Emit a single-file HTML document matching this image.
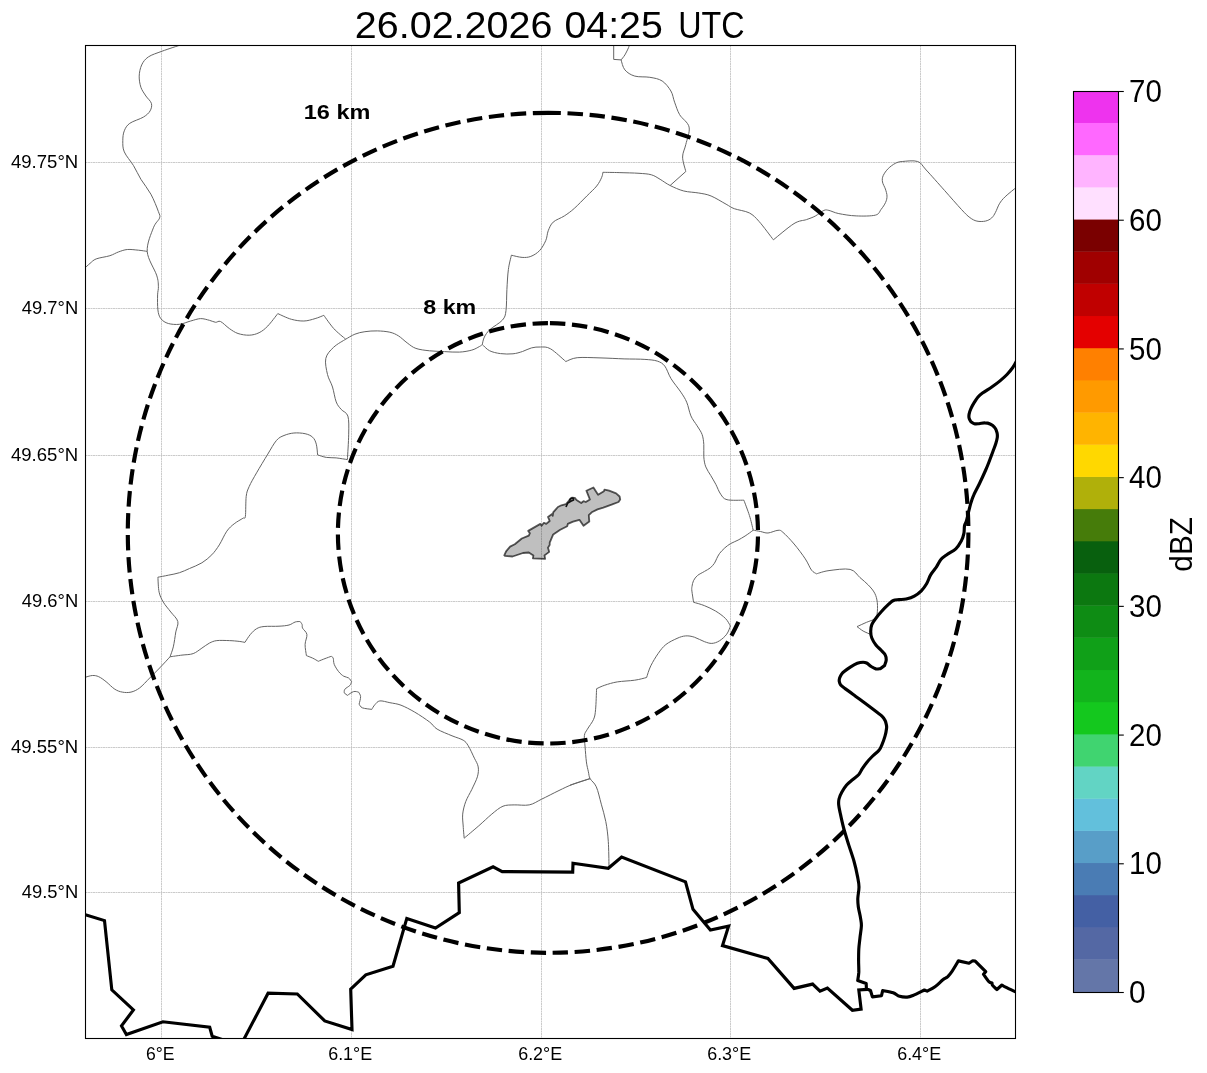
<!DOCTYPE html>
<html><head><meta charset="utf-8"><title>Radar map</title>
<style>html,body{margin:0;padding:0;background:#fff;}body{width:1207px;height:1073px;overflow:hidden;font-family:"Liberation Sans",sans-serif;}body{position:relative;}svg{display:block;position:absolute;left:0;top:0;will-change:transform;}text{font-family:"Liberation Sans",sans-serif;fill:#000;}</style></head><body>
<svg width="1207" height="1073" viewBox="0 0 1207 1073" role="img" aria-label="Radar reflectivity map 26.02.2026 04:25 UTC">
<rect width="1207" height="1073" fill="#fff"/>
<defs><clipPath id="ax"><rect x="85.5" y="45.5" width="930.0" height="993.0"/></clipPath></defs>
<g clip-path="url(#ax)">
<g stroke="#bababa" stroke-width="0.75" stroke-dasharray="2 0.5" fill="none">
<line x1="161.5" y1="45.5" x2="161.5" y2="1038.5"/>
<line x1="351.5" y1="45.5" x2="351.5" y2="1038.5"/>
<line x1="541.5" y1="45.5" x2="541.5" y2="1038.5"/>
<line x1="730.5" y1="45.5" x2="730.5" y2="1038.5"/>
<line x1="920.5" y1="45.5" x2="920.5" y2="1038.5"/>
<line x1="85.5" y1="162.5" x2="1015.5" y2="162.5"/>
<line x1="85.5" y1="308.5" x2="1015.5" y2="308.5"/>
<line x1="85.5" y1="455.5" x2="1015.5" y2="455.5"/>
<line x1="85.5" y1="601.5" x2="1015.5" y2="601.5"/>
<line x1="85.5" y1="747.5" x2="1015.5" y2="747.5"/>
<line x1="85.5" y1="892.5" x2="1015.5" y2="892.5"/>
</g>
<g fill="none" stroke="#646464" stroke-width="1" stroke-linejoin="round">
<path d="M182.0,44.5C178.7,45.6 167.7,49.1 162.1,51.2C156.5,53.3 151.8,54.6 148.4,56.9C145.0,59.2 143.2,61.7 141.7,64.9C140.2,68.1 139.3,72.4 139.2,76.1C139.1,79.8 139.8,84.0 140.9,87.3C142.0,90.6 144.2,93.3 145.9,96.0C147.7,98.7 150.7,100.9 151.4,103.4C152.1,105.9 151.4,108.6 150.1,110.9C148.8,113.2 146.8,115.0 143.4,117.1C140.0,119.2 133.0,121.0 129.8,123.3C126.6,125.6 125.5,127.9 124.3,130.8C123.1,133.7 122.8,137.2 122.8,140.7C122.8,144.2 122.5,147.8 124.3,151.9C126.1,156.1 130.7,161.0 133.5,165.6C136.3,170.2 138.0,174.5 140.9,179.3C143.8,184.1 148.0,188.8 150.9,194.2C153.8,199.6 157.0,207.6 158.4,211.6C159.8,215.6 160.4,215.2 159.6,217.9C158.8,220.6 155.5,222.2 153.4,227.8C151.3,233.4 146.7,243.5 147.2,251.4C147.7,259.3 154.7,269.3 156.6,275.1C158.5,280.9 158.2,283.0 158.4,286.3C158.6,289.6 157.7,291.0 157.6,294.9C157.5,298.8 157.4,305.9 157.9,309.9C158.4,313.8 159.1,316.3 160.8,318.6C162.5,320.9 165.2,322.6 168.3,323.5C171.4,324.4 175.8,324.7 179.5,324.3C183.2,323.9 187.2,321.9 190.7,321.0C194.2,320.1 197.5,318.7 200.6,318.6C203.7,318.5 206.9,319.7 209.4,320.3C211.9,320.9 213.8,322.1 215.6,322.3C217.4,322.5 218.2,320.5 220.5,321.5C222.8,322.5 226.4,326.5 229.3,328.5C232.2,330.5 234.7,332.4 238.0,333.5C241.3,334.6 245.7,335.3 249.2,335.2C252.7,335.1 256.0,334.2 259.1,332.7C262.2,331.2 264.7,329.2 267.8,326.0C270.9,322.8 276.1,315.7 277.8,313.6C280.1,314.6 287.0,318.1 291.4,319.3C295.8,320.5 299.9,321.1 303.9,321.0C307.8,320.9 311.8,319.6 315.1,318.6C318.4,317.7 322.4,315.9 323.8,315.3C325.4,317.5 330.1,324.5 333.7,328.5C337.3,332.5 343.7,337.4 345.7,339.2"/>
<path d="M147.2,251.4C145.8,251.2 141.8,250.5 138.5,250.2C135.2,249.9 130.6,249.2 127.3,249.5C124.0,249.8 121.5,250.9 118.6,251.9C115.7,252.9 113.6,254.5 109.9,255.7C106.2,256.9 99.5,257.6 96.2,258.9C92.9,260.2 92.0,261.8 90.0,263.4C88.0,265.0 85.4,267.6 84.5,268.4"/>
<path d="M345.7,339.2C343.7,340.5 337.0,344.0 333.7,347.2C330.4,350.4 326.8,353.8 325.8,358.4C324.8,362.9 326.4,369.7 327.5,374.5C328.6,379.3 331.1,382.4 332.5,387.0C333.9,391.6 334.8,398.2 336.2,401.9C337.6,405.6 339.2,407.0 341.2,409.4C343.1,411.8 346.6,412.0 347.9,416.1C349.1,420.2 348.8,426.9 348.7,434.2C348.6,441.4 347.6,455.4 347.4,459.6C345.5,459.3 339.7,458.3 336.2,457.9C332.7,457.5 329.4,457.9 326.3,457.4C323.2,456.9 319.1,455.3 317.6,454.9C317.4,453.1 317.1,447.1 316.3,444.2C315.5,441.2 314.5,438.9 312.6,437.2C310.7,435.4 308.2,434.4 305.1,433.7C302.0,433.0 297.4,432.7 293.9,433.0C290.4,433.3 286.9,434.3 284.0,435.5C281.1,436.7 279.2,437.3 276.5,440.4C273.8,443.5 271.1,448.7 267.8,454.1C264.5,459.5 259.7,467.4 256.6,472.8C253.5,478.2 250.9,482.6 249.2,486.5C247.5,490.4 246.8,491.4 246.2,496.4C245.6,501.4 245.9,512.6 245.4,516.3C244.9,519.9 244.8,517.0 242.9,518.3C241.0,519.5 236.9,521.6 234.2,523.8C231.5,525.9 229.3,527.7 226.8,531.2C224.3,534.7 221.8,541.0 219.3,544.9C216.8,548.8 214.7,551.8 211.8,554.8C208.9,557.8 205.6,560.5 201.9,562.8C198.2,565.1 193.2,566.9 189.5,568.5C185.8,570.1 183.0,571.6 179.5,572.7C176.0,573.8 171.9,574.5 168.3,575.2C164.7,576.0 159.6,576.9 157.9,577.2C158.1,579.7 158.2,588.0 159.1,592.1C160.0,596.2 161.4,598.8 163.3,602.1C165.2,605.4 168.4,608.8 170.8,612.0C173.2,615.2 177.0,618.2 177.8,621.5C178.6,624.8 176.6,627.7 175.8,631.9C175.1,636.1 174.3,642.8 173.3,646.9C172.3,651.0 170.6,655.1 170.0,656.8"/>
<path d="M170.0,656.8C168.3,658.7 163.0,664.5 159.6,668.0C156.2,671.5 153.0,674.7 149.7,678.0C146.4,681.3 142.8,685.5 139.7,687.9C136.6,690.2 133.9,691.4 131.0,692.1C128.1,692.8 125.0,692.6 122.3,692.1C119.6,691.6 117.5,690.9 114.8,689.2C112.1,687.5 108.8,683.8 106.1,681.7C103.4,679.6 101.0,677.7 98.7,676.7C96.4,675.7 94.8,675.4 92.4,675.5C90.0,675.6 85.8,677.2 84.5,677.5"/>
<path d="M170.0,656.8C172.0,656.5 178.1,655.6 182.0,655.1C185.9,654.6 189.9,654.8 193.2,653.6C196.5,652.4 199.2,649.9 201.9,648.1C204.6,646.4 206.9,644.4 209.4,643.1C211.9,641.9 213.5,641.0 216.8,640.6C220.1,640.2 225.6,640.5 229.3,640.6C233.0,640.7 236.6,641.1 239.2,641.4C241.8,641.7 243.9,642.2 244.9,642.4C245.8,641.1 248.4,636.7 250.4,634.4C252.4,632.1 254.3,630.0 256.6,628.7C258.9,627.4 260.4,626.9 264.1,626.5C267.8,626.1 274.9,626.5 279.0,626.2C283.1,626.0 286.3,625.7 289.0,625.0C291.7,624.3 293.3,622.6 295.2,622.0C297.1,621.4 299.3,621.6 300.1,621.5C300.4,622.0 301.7,623.4 302.1,624.5C302.5,625.6 301.8,626.6 302.6,628.2C303.4,629.9 306.5,631.7 306.9,634.4C307.3,637.1 305.2,640.9 305.1,644.4C305.0,647.9 306.2,653.7 306.4,655.6C307.4,656.0 310.6,657.2 312.6,658.1C314.6,659.0 317.4,660.8 318.3,661.3C319.4,660.8 322.9,659.4 325.0,658.6C327.1,657.8 330.2,656.7 331.2,656.3C331.5,656.6 332.7,656.8 333.2,658.1C333.7,659.4 333.3,662.0 334.2,664.3C335.1,666.6 337.1,669.7 338.7,671.7C340.3,673.7 342.0,675.2 343.7,676.2C345.4,677.2 347.4,677.1 348.7,678.0C350.0,678.9 351.1,681.1 351.6,681.7C351.3,682.3 351.0,684.1 349.9,685.4C348.8,686.6 345.8,688.0 344.9,689.2C343.9,690.5 344.3,692.3 344.2,692.9L347.4,695.4C348.4,694.8 351.7,692.1 353.6,691.6C355.5,691.1 357.8,692.0 358.6,692.1C358.9,692.9 360.5,694.6 360.6,696.6C360.7,698.6 359.4,702.9 359.1,704.1C359.6,704.7 360.2,706.9 362.3,707.8C364.4,708.7 370.2,709.1 371.8,709.4C372.3,708.6 373.5,706.1 374.9,704.7C376.2,703.3 377.4,701.2 379.9,700.9C382.4,700.6 386.4,702.0 389.9,702.7C393.4,703.4 396.9,703.6 401.0,705.2C405.1,706.8 409.9,709.3 414.7,712.1C419.5,714.9 426.0,719.3 429.7,722.1C433.4,724.9 433.4,726.8 437.1,729.1C440.8,731.4 447.6,733.9 452.0,735.8C456.4,737.6 460.5,738.6 463.2,740.2C465.9,741.9 466.3,742.7 468.2,745.7C470.1,748.7 472.7,754.7 474.4,758.2C476.1,761.7 477.7,763.8 478.2,766.9C478.7,770.0 478.4,773.1 477.4,776.8C476.3,780.5 473.8,785.1 471.9,789.3C469.9,793.4 467.2,797.6 465.7,801.7C464.2,805.8 463.1,810.1 462.7,814.1C462.3,818.1 462.9,822.0 463.2,826.0C463.4,830.0 464.0,836.2 464.2,838.2C466.6,836.1 474.2,829.8 478.8,825.8C483.4,821.8 487.8,817.4 491.8,814.1C495.8,810.8 499.3,807.7 503.0,806.2C506.7,804.7 509.8,805.1 514.2,804.9C518.6,804.7 524.6,805.8 529.2,804.9C533.8,804.0 536.6,801.6 541.6,799.2C546.6,796.8 553.8,793.0 559.0,790.5C564.2,788.0 567.5,786.3 572.7,784.3C577.9,782.3 587.2,779.5 590.1,778.6"/>
<path d="M753.2,530.2C751.9,531.2 747.6,534.4 745.1,536.0C742.6,537.6 740.5,538.8 738.1,540.1C735.7,541.4 732.8,542.3 730.6,543.6C728.4,544.9 726.6,546.3 724.8,547.9C723.0,549.5 721.0,551.6 719.6,553.4C718.2,555.2 717.6,557.0 716.7,558.6C715.8,560.2 715.5,561.8 714.4,563.3C713.3,564.8 711.9,566.5 710.3,567.9C708.6,569.2 706.6,570.1 704.5,571.4C702.4,572.7 699.3,574.0 697.5,575.5C695.7,577.0 694.4,578.9 693.5,580.7C692.6,582.5 692.3,584.8 692.0,586.5C691.7,588.2 691.6,588.5 691.9,591.1C692.2,593.7 693.3,600.4 693.6,602.3C695.4,602.8 700.6,604.1 704.3,605.6C707.9,607.1 712.0,608.9 715.5,611.0C719.0,613.1 723.0,616.0 725.5,618.5C728.0,621.0 729.6,624.8 730.4,626.0C729.8,627.4 728.6,631.7 726.7,634.2C724.9,636.7 721.8,639.4 719.3,640.9C716.8,642.4 714.3,643.3 711.8,643.4C709.3,643.5 707.2,642.6 704.3,641.6C701.4,640.6 697.5,638.2 694.4,637.2C691.3,636.2 688.6,635.7 685.7,635.9C682.8,636.1 680.3,636.9 677.0,638.4C673.7,639.9 668.9,642.1 665.8,644.6C662.7,647.1 660.8,649.8 658.3,653.3C655.8,656.8 652.8,661.8 650.8,665.8C648.8,669.8 647.3,675.5 646.6,677.5C644.6,678.0 639.6,679.5 634.7,680.2C629.8,680.9 622.3,681.1 617.3,681.9C612.3,682.7 608.2,684.1 604.8,685.2C601.3,686.3 598.0,688.1 596.6,688.7C596.4,692.1 596.1,704.2 595.6,709.3C595.1,714.4 595.0,716.0 593.6,719.3C592.2,722.6 588.9,726.5 587.4,729.2C585.9,731.9 584.8,732.4 584.4,735.4C584.0,738.4 584.8,742.6 585.1,747.0C585.4,751.4 585.9,757.8 586.4,761.9C586.9,766.0 587.8,769.0 588.4,771.8C589.0,774.6 588.8,776.1 590.1,778.6C591.4,781.1 594.4,782.5 596.3,786.8C598.2,791.1 599.7,798.4 601.3,804.2C602.9,810.0 604.6,815.4 605.8,821.6C607.0,827.8 607.8,834.1 608.3,841.5C608.8,848.9 608.9,861.9 609.0,866.0"/>
<path d="M345.7,339.2C347.2,338.4 351.7,335.4 354.9,334.2C358.1,332.9 361.2,332.2 364.9,331.7C368.6,331.1 373.1,330.8 377.3,330.9C381.5,331.0 386.3,331.4 389.8,332.2C393.3,333.0 395.6,334.1 398.5,335.9C401.4,337.7 404.3,340.8 407.2,342.9C410.1,345.0 412.2,347.1 415.9,348.4C419.6,349.7 424.8,350.3 429.6,350.8C434.4,351.3 439.5,351.4 444.5,351.6C449.5,351.8 454.8,352.4 459.4,352.1C463.9,351.9 468.5,351.0 471.8,350.1C475.1,349.2 477.6,347.5 479.3,346.6C481.1,345.7 481.8,344.9 482.3,344.5"/>
<path d="M482.3,344.5C482.6,343.2 483.1,339.5 484.4,337.0C485.7,334.5 487.0,332.3 490.0,329.5C493.0,326.7 499.8,323.2 502.5,320.0C505.2,316.8 505.3,315.6 506.0,310.5C506.7,305.4 506.5,296.4 506.9,289.5C507.3,282.6 507.6,275.1 508.4,269.4C509.1,263.7 510.9,257.6 511.4,255.2C513.2,255.6 518.9,257.2 522.1,257.4C525.3,257.6 527.9,257.5 530.8,256.4C533.7,255.3 537.0,253.3 539.5,250.7C542.0,248.1 544.2,244.0 545.7,240.7C547.2,237.4 547.0,233.9 548.2,230.8C549.5,227.7 550.5,224.6 553.2,222.1C555.9,219.6 560.9,218.2 564.4,215.9C567.9,213.6 570.6,211.7 574.3,208.4C578.0,205.1 583.1,199.7 586.8,196.0C590.5,192.3 594.2,189.1 596.7,186.0C599.2,182.9 600.7,179.6 601.7,177.3C602.7,175.0 602.7,173.1 602.9,172.3C605.6,172.4 613.1,172.4 619.1,172.6C625.1,172.8 633.6,172.9 639.0,173.3C644.4,173.7 647.9,173.8 651.4,174.8C654.9,175.8 657.0,177.5 660.1,179.3C663.2,181.1 666.2,183.6 670.1,185.5C674.0,187.4 679.0,189.8 683.8,191.0C688.6,192.2 694.2,192.2 698.7,193.0C703.2,193.8 706.5,194.1 711.1,196.0C715.7,197.9 722.2,202.1 726.1,204.2C730.0,206.3 730.4,207.2 734.3,208.7C738.2,210.1 745.1,210.8 749.3,212.9C753.4,215.1 755.2,217.1 759.2,221.6C763.2,226.1 771.0,236.8 773.4,239.8C776.8,237.1 788.5,227.0 794.0,223.6C799.5,220.2 803.0,220.8 806.5,219.6C810.0,218.3 812.3,217.6 815.2,216.1C818.1,214.6 821.6,211.3 823.9,210.4C826.2,209.5 826.4,209.9 828.9,210.4C831.4,210.9 834.2,212.7 838.8,213.6C843.3,214.5 850.1,215.7 856.2,215.9C862.3,216.2 871.4,216.2 875.5,215.1C879.6,214.0 879.4,211.5 881.1,209.4C882.8,207.3 884.6,204.6 885.6,202.4C886.6,200.2 887.0,198.3 887.0,196.1C887.0,193.9 886.1,191.3 885.4,189.0C884.6,186.7 882.9,184.2 882.5,182.0C882.1,179.8 882.2,177.8 883.2,175.6C884.2,173.4 886.2,170.6 888.2,168.6C890.2,166.6 892.9,164.6 895.2,163.4C897.6,162.2 898.5,161.8 902.3,161.5C906.0,161.2 913.7,160.1 917.7,161.5C921.7,162.9 921.7,165.2 926.2,170.0C930.7,174.8 938.6,183.8 944.5,190.4C950.4,197.0 957.2,204.9 961.4,209.4C965.6,213.9 967.3,215.7 969.9,217.6C972.5,219.5 974.3,220.5 976.9,221.1C979.5,221.7 982.9,221.6 985.4,221.1C987.9,220.6 990.0,219.4 991.7,217.9C993.4,216.4 994.2,214.7 995.5,212.3C996.8,210.0 997.8,206.4 999.4,203.8C1001.0,201.2 1002.2,199.6 1005.1,196.8C1008.0,194.0 1015.0,188.5 1017.0,186.8"/>
<path d="M670.1,185.5L685.8,171.5C685.3,169.1 682.6,161.5 682.6,157.0C682.6,152.5 684.7,149.5 685.8,144.5C686.9,139.5 690.1,132.1 689.1,127.1C688.1,122.1 682.0,118.8 679.6,114.6C677.2,110.4 676.1,106.1 674.6,102.2C673.1,98.3 673.0,94.5 670.9,91.0C668.8,87.5 665.7,83.3 662.2,81.0C658.7,78.7 654.4,78.1 649.8,77.3C645.2,76.5 638.9,77.3 634.8,76.1C630.6,74.9 627.2,72.6 624.9,69.9C622.6,67.2 621.7,61.6 621.1,59.9L613.7,59.4L613.7,44.5"/>
<path d="M621.1,59.9C621.7,59.1 623.6,57.0 624.9,54.9C626.1,52.8 627.9,49.2 628.6,47.5C629.3,45.8 629.2,45.0 629.3,44.5"/>
<path d="M482.3,344.5C483.5,345.5 486.5,349.2 489.5,350.7C492.5,352.2 496.6,353.1 500.5,353.6C504.4,354.1 509.3,354.2 513.0,353.8C516.7,353.4 519.4,352.5 522.5,351.5C525.6,350.5 528.5,348.6 531.5,347.9C534.5,347.1 537.3,346.9 540.5,347.0C543.7,347.1 546.3,346.4 550.5,348.8C554.7,351.2 563.2,359.4 565.8,361.5C567.7,360.9 571.5,358.3 577.2,357.7C582.9,357.1 592.2,357.7 600.0,357.9C607.8,358.1 616.6,358.6 624.1,358.9C631.6,359.1 639.4,359.0 644.9,359.4C650.4,359.8 654.0,360.0 657.3,361.1C660.6,362.2 662.5,363.2 664.8,366.1C667.1,369.0 668.3,374.2 671.0,378.6C673.7,383.0 678.3,388.3 680.9,392.2C683.5,396.1 685.0,398.2 686.7,402.2C688.4,406.1 689.2,412.0 690.9,415.9C692.6,419.8 695.2,422.7 697.1,425.8C699.0,428.9 701.0,431.4 702.1,434.5C703.2,437.6 703.5,440.8 703.8,444.5C704.1,448.2 703.5,453.2 703.8,456.9C704.1,460.6 704.6,463.8 705.8,466.9C707.0,470.0 709.1,472.7 710.8,475.6C712.5,478.5 714.1,481.2 715.8,484.3C717.4,487.4 718.8,491.6 720.7,494.2C722.6,496.8 723.1,498.7 727.0,499.7C730.9,500.7 741.1,500.1 743.9,500.2C744.8,502.7 747.8,510.4 749.4,515.4C751.0,520.4 752.6,527.7 753.2,530.2"/>
<path d="M753.2,530.2C754.4,530.4 758.0,531.0 760.5,531.5C763.0,532.0 765.1,533.2 768.0,533.0C770.9,532.8 775.5,530.4 778.0,530.3C780.5,530.2 780.2,530.0 782.9,532.3C785.6,534.6 790.4,539.6 794.1,544.0C797.8,548.4 802.4,554.5 805.3,558.9C808.2,563.2 809.6,567.6 811.5,570.1C813.4,572.6 815.7,573.2 816.5,573.8C818.6,573.3 823.4,571.3 829.0,570.6C834.6,569.9 844.9,568.2 850.1,569.4C855.3,570.6 857.0,575.0 860.0,577.6C863.0,580.2 865.8,582.4 868.3,585.0C870.8,587.6 873.2,590.3 874.7,593.2C876.2,596.1 876.9,599.0 877.3,602.5C877.7,606.0 877.5,611.4 877.1,614.1C876.7,616.8 876.5,617.4 874.7,618.8C873.0,620.2 869.6,621.0 866.6,622.3C863.6,623.6 858.6,625.9 857.0,626.6C858.0,627.3 860.9,629.7 863.1,631.0C865.4,632.3 869.3,633.8 870.5,634.3"/>
<path d="M590.1,778.6L570.0,785.2"/>
</g>
<polygon points="504.3,555.4 506.1,551.3 510.1,546.6 514.8,544.3 521.8,538.5 528.8,535.6 529.9,533.2 528.2,530.9 540.4,523.9 541.6,525.7 543.9,522.8 546.2,523.9 549.7,521.0 548.0,516.9 552.1,514.0 552.7,515.8 553.2,512.3 557.9,507.0 561.4,505.3 566.0,504.1 569.5,500.0 571.9,497.7 574.8,497.9 576.5,500.0 581.2,503.0 583.5,501.2 585.8,502.0 589.9,499.5 586.4,490.7 593.4,487.5 598.1,494.8 603.9,491.3 604.5,489.6 609.1,490.7 616.1,493.4 619.6,496.5 620.2,499.5 618.5,502.0 611.5,504.7 603.3,507.6 597.5,509.4 591.7,512.3 588.8,515.2 589.3,521.6 583.5,525.7 579.4,519.8 573.0,521.6 567.8,523.9 567.2,526.2 560.2,529.7 553.2,534.4 549.7,542.6 549.7,544.9 548.0,547.8 549.2,551.9 544.5,555.4 545.1,558.9 532.9,558.3 533.4,555.4 528.8,552.5 523.0,553.0 512.5,556.5 504.9,555.9" fill="#000" fill-opacity="0.25" stroke="#000" stroke-opacity="0.66" stroke-width="1.8" stroke-linejoin="round"/>
<polyline points="566.0,507.0 567.8,503.0 570.8,501.2 573.6,500.0 573.0,498.0 570.5,498.6 569.3,500.6" fill="none" stroke="#111" stroke-width="1.7" stroke-linejoin="round"/>
<g fill="none" stroke="#000" stroke-width="3.15" stroke-linecap="butt">
<polyline points="84.0,914.3 104.5,920.6 111.8,989.8 133.4,1009.9 121.5,1025.9 126.4,1034.6 162.9,1021.8 209.7,1027.3 212.2,1036.2 222.0,1039.5" stroke-linejoin="miter" stroke-miterlimit="6"/>
<polyline points="243.5,1040.0 268.1,993.2 297.3,994.0 324.7,1020.9 352.0,1029.5 350.7,989.1 365.8,974.8 393.0,966.2 406.8,918.4 435.5,928.0 459.3,912.6 458.6,883.0 493.1,866.8 502.2,871.6 572.7,872.1 573.0,863.3 608.3,868.3 621.6,857.1 685.5,881.9 693.0,909.3 710.4,930.0 728.6,926.2 722.5,945.6 767.9,958.5 794.1,988.4 812.6,984.1 820.0,991.2 827.4,988.1 852.4,1010.3 861.1,1009.1 858.8,989.9 867.5,989.4" stroke-linejoin="miter" stroke-miterlimit="6"/>
<path d="M1017.0,360.0C1016.3,361.2 1014.5,365.1 1012.8,367.5C1011.1,369.9 1009.1,372.3 1007.0,374.5C1004.9,376.7 1002.5,378.8 1000.0,380.9C997.5,383.0 994.7,385.0 991.8,387.0C988.9,389.0 984.8,391.4 982.5,393.1C980.2,394.8 979.2,395.6 977.8,397.2C976.4,398.8 975.5,400.5 974.3,402.4C973.1,404.3 971.7,406.9 970.8,408.8C969.9,410.8 969.4,412.6 969.1,414.1C968.8,415.7 968.8,416.9 969.1,418.1C969.4,419.4 970.5,421.0 970.8,421.6C971.4,422.0 972.9,423.4 974.3,423.7C975.7,424.0 977.2,423.8 979.0,423.7C980.8,423.6 982.9,422.8 984.8,422.9C986.6,422.9 988.5,423.2 990.1,424.0C991.8,424.8 993.6,426.1 994.7,427.5C995.9,428.9 996.6,431.1 997.0,432.7C997.4,434.3 997.5,435.6 997.3,437.4C997.1,439.1 996.6,440.9 995.9,443.2C995.2,445.5 994.2,448.0 993.0,451.3C991.8,454.6 989.8,459.9 988.6,463.0C987.4,466.1 987.2,466.6 985.7,470.0C984.2,473.4 981.4,479.6 979.4,483.7C977.4,487.8 975.2,491.6 973.8,494.9C972.3,498.2 971.6,500.5 970.7,503.6C969.8,506.7 968.9,510.6 968.2,513.5C967.5,516.4 967.0,518.9 966.4,521.0C965.8,523.1 964.9,523.8 964.5,525.9C964.1,528.0 964.4,530.9 963.9,533.4C963.4,535.9 962.8,538.2 961.4,540.8C960.0,543.4 958.2,546.6 955.8,548.9C953.4,551.2 949.6,552.7 947.1,554.5C944.6,556.3 942.7,557.4 940.9,559.5C939.1,561.6 938.2,564.4 936.5,566.9C934.8,569.4 932.5,571.6 930.9,574.4C929.2,577.2 928.2,581.0 926.6,583.7C925.0,586.4 923.3,588.7 921.3,590.8C919.2,592.9 916.8,594.7 914.3,596.1C911.8,597.5 908.7,598.4 906.2,599.0C903.7,599.6 901.3,599.4 899.2,599.6C897.1,599.9 895.1,599.7 893.4,600.5C891.6,601.3 890.7,602.4 888.7,604.2C886.8,606.0 883.8,608.9 881.7,611.2C879.6,613.5 877.5,616.0 875.9,618.2C874.2,620.4 872.7,622.4 871.8,624.6C870.9,626.8 870.7,629.4 870.7,631.6C870.7,633.8 870.9,635.8 871.8,638.0C872.7,640.2 874.2,642.9 875.9,645.0C877.5,647.1 880.2,649.1 881.7,650.8C883.2,652.4 884.5,653.3 885.2,654.9C886.0,656.5 886.3,658.4 886.2,660.1C886.1,661.9 884.9,664.5 884.6,665.4L880.6,668.6C879.8,668.6 877.5,669.2 875.9,668.9C874.3,668.5 872.8,667.5 871.2,666.5C869.7,665.5 868.0,663.7 866.6,663.0C865.2,662.3 864.7,662.2 863.1,662.2C861.5,662.2 859.4,662.5 857.3,663.3C855.2,664.1 852.4,665.8 850.3,667.1C848.2,668.4 846.0,670.0 844.5,671.2C843.0,672.4 842.4,673.0 841.6,674.1C840.8,675.2 840.0,676.9 839.6,678.1C839.2,679.4 839.1,680.4 839.3,681.6C839.5,682.8 839.7,683.9 840.7,685.1C841.7,686.3 843.0,687.1 845.1,688.6C847.2,690.1 849.9,692.0 853.2,694.4C856.5,696.8 860.9,700.2 864.8,703.1C868.7,706.0 873.5,709.6 876.4,711.8C879.3,714.0 880.8,714.9 882.2,716.4C883.7,717.9 884.4,719.1 885.1,720.5C885.8,721.9 886.0,723.2 886.3,724.5C886.5,725.8 886.8,726.1 886.6,728.0C886.4,729.9 885.8,733.4 885.0,736.1C884.2,738.8 883.1,742.0 882.1,744.3C881.1,746.6 880.9,748.1 879.2,750.1C877.6,752.1 874.3,754.4 872.2,756.5C870.1,758.6 868.0,760.9 866.4,762.9C864.8,764.9 863.6,766.8 862.3,768.7C861.0,770.6 860.4,772.6 858.8,774.5C857.1,776.4 854.4,778.0 852.4,779.8C850.4,781.5 848.4,783.0 846.6,785.0C844.9,787.0 843.2,789.7 841.9,792.0C840.6,794.3 839.5,796.9 839.0,799.0C838.5,801.1 838.5,802.5 838.7,804.8C838.9,807.1 839.4,809.2 840.2,813.0C841.0,816.8 842.1,822.2 843.5,827.5C844.9,832.8 847.0,839.3 848.7,844.9C850.5,850.5 852.5,856.0 854.0,861.2C855.5,866.5 856.7,872.1 857.5,876.4C858.3,880.7 859.0,883.2 859.0,886.9C859.0,890.6 857.9,895.2 857.8,898.5C857.7,901.8 857.9,903.6 858.3,906.7C858.7,909.8 859.9,914.0 860.4,917.2C860.9,920.4 861.5,922.4 861.4,925.8C861.3,929.2 860.4,933.6 860.0,937.5C859.6,941.4 859.0,945.2 858.8,949.1C858.6,953.0 858.6,956.9 858.6,960.8C858.6,964.7 858.9,969.1 858.8,972.4C858.6,975.7 857.9,979.2 857.7,980.6L866.2,983.5L866.4,988.7L870.5,990.5L872.4,996.9L881.5,995.7L882.7,990.5C884.5,990.9 890.4,991.8 893.2,992.8C896.0,993.8 897.3,995.6 899.6,996.3C901.9,997.0 905.0,997.2 907.2,997.1C909.4,997.0 910.1,996.7 913.0,995.5C915.9,994.3 922.5,990.9 924.4,990.0L927.1,991.1C928.4,990.4 932.4,988.7 935.0,986.8C937.6,984.9 940.8,981.5 942.9,979.8C945.0,978.1 946.2,978.2 947.8,976.7C949.3,975.2 950.4,973.7 952.2,971.1C954.0,968.5 957.4,962.6 958.4,960.9L969.0,963.2L972.7,960.8L975.2,961.1L985.7,971.7L983.5,974.2C984.4,975.4 987.5,980.2 988.9,981.6C990.3,983.0 991.5,982.7 992.0,982.9C992.1,983.3 991.8,984.3 992.6,985.4C993.4,986.5 996.2,988.8 996.9,989.5L1001.9,985.0C1002.5,985.4 1003.1,986.0 1005.6,987.2C1008.1,988.5 1015.1,991.6 1017.0,992.5" stroke-linejoin="round"/>
</g>
<path d="M548.10,112.80 A420.30,420.00 0 1 0 548.10,952.80 A420.30,420.00 0 1 0 548.10,112.80" fill="none" stroke="#000" stroke-width="4.17" stroke-dasharray="15.41 6.66"/>
<path d="M547.95,323.20 A210.05,210.15 0 1 0 547.95,743.50 A210.05,210.15 0 1 0 547.95,323.20" fill="none" stroke="#000" stroke-width="4.17" stroke-dasharray="15.41 6.66"/>
</g>
<rect x="85.5" y="45.5" width="930.0" height="993.0" fill="none" stroke="#000" stroke-width="1.1"/>
<text x="303.8" y="119.2" font-size="19.60" font-weight="bold" text-anchor="start" textLength="66.6" lengthAdjust="spacingAndGlyphs">16 km</text>
<text x="423.3" y="314.2" font-size="19.60" font-weight="bold" text-anchor="start" textLength="53.0" lengthAdjust="spacingAndGlyphs">8 km</text>
<text x="354.8" y="37.7" font-size="36.60" font-weight="normal" text-anchor="start" textLength="197.6" lengthAdjust="spacingAndGlyphs">26.02.2026</text>
<text x="564.5" y="37.7" font-size="36.60" font-weight="normal" text-anchor="start" textLength="98.3" lengthAdjust="spacingAndGlyphs">04:25</text>
<text x="678.2" y="37.7" font-size="36.60" font-weight="normal" text-anchor="start" textLength="66.3" lengthAdjust="spacingAndGlyphs">UTC</text>
<text x="11.0" y="168.0" font-size="17.90" font-weight="normal" text-anchor="start" textLength="67.2" lengthAdjust="spacingAndGlyphs">49.75°N</text>
<text x="21.8" y="314.0" font-size="17.90" font-weight="normal" text-anchor="start" textLength="56.4" lengthAdjust="spacingAndGlyphs">49.7°N</text>
<text x="11.0" y="461.0" font-size="17.90" font-weight="normal" text-anchor="start" textLength="67.2" lengthAdjust="spacingAndGlyphs">49.65°N</text>
<text x="21.8" y="607.0" font-size="17.90" font-weight="normal" text-anchor="start" textLength="56.4" lengthAdjust="spacingAndGlyphs">49.6°N</text>
<text x="11.0" y="753.0" font-size="17.90" font-weight="normal" text-anchor="start" textLength="67.2" lengthAdjust="spacingAndGlyphs">49.55°N</text>
<text x="21.8" y="898.0" font-size="17.90" font-weight="normal" text-anchor="start" textLength="56.4" lengthAdjust="spacingAndGlyphs">49.5°N</text>
<text x="145.9" y="1059.9" font-size="17.70" font-weight="normal" text-anchor="start" textLength="28.6" lengthAdjust="spacingAndGlyphs">6°E</text>
<text x="328.2" y="1059.9" font-size="17.70" font-weight="normal" text-anchor="start" textLength="44.0" lengthAdjust="spacingAndGlyphs">6.1°E</text>
<text x="518.2" y="1059.9" font-size="17.70" font-weight="normal" text-anchor="start" textLength="44.0" lengthAdjust="spacingAndGlyphs">6.2°E</text>
<text x="707.2" y="1059.9" font-size="17.70" font-weight="normal" text-anchor="start" textLength="44.0" lengthAdjust="spacingAndGlyphs">6.3°E</text>
<text x="897.2" y="1059.9" font-size="17.70" font-weight="normal" text-anchor="start" textLength="44.0" lengthAdjust="spacingAndGlyphs">6.4°E</text>
<rect x="1073.5" y="959.22" width="45.0" height="33.28" fill="rgb(100,118,168)"/>
<rect x="1073.5" y="927.04" width="45.0" height="32.58" fill="rgb(84,104,164)"/>
<rect x="1073.5" y="894.86" width="45.0" height="32.58" fill="rgb(68,96,164)"/>
<rect x="1073.5" y="862.69" width="45.0" height="32.58" fill="rgb(74,124,180)"/>
<rect x="1073.5" y="830.51" width="45.0" height="32.58" fill="rgb(88,158,200)"/>
<rect x="1073.5" y="798.33" width="45.0" height="32.58" fill="rgb(98,192,220)"/>
<rect x="1073.5" y="766.15" width="45.0" height="32.58" fill="rgb(98,212,196)"/>
<rect x="1073.5" y="733.97" width="45.0" height="32.58" fill="rgb(64,212,112)"/>
<rect x="1073.5" y="701.79" width="45.0" height="32.58" fill="rgb(20,200,30)"/>
<rect x="1073.5" y="669.61" width="45.0" height="32.58" fill="rgb(18,180,28)"/>
<rect x="1073.5" y="637.44" width="45.0" height="32.58" fill="rgb(16,160,24)"/>
<rect x="1073.5" y="605.26" width="45.0" height="32.58" fill="rgb(14,140,20)"/>
<rect x="1073.5" y="573.08" width="45.0" height="32.58" fill="rgb(12,120,16)"/>
<rect x="1073.5" y="540.90" width="45.0" height="32.58" fill="rgb(8,96,14)"/>
<rect x="1073.5" y="508.72" width="45.0" height="32.58" fill="rgb(70,124,10)"/>
<rect x="1073.5" y="476.54" width="45.0" height="32.58" fill="rgb(176,176,10)"/>
<rect x="1073.5" y="444.36" width="45.0" height="32.58" fill="rgb(255,216,0)"/>
<rect x="1073.5" y="412.19" width="45.0" height="32.58" fill="rgb(255,180,0)"/>
<rect x="1073.5" y="380.01" width="45.0" height="32.58" fill="rgb(255,154,0)"/>
<rect x="1073.5" y="347.83" width="45.0" height="32.58" fill="rgb(255,128,0)"/>
<rect x="1073.5" y="315.65" width="45.0" height="32.58" fill="rgb(228,0,0)"/>
<rect x="1073.5" y="283.47" width="45.0" height="32.58" fill="rgb(192,0,0)"/>
<rect x="1073.5" y="251.29" width="45.0" height="32.58" fill="rgb(160,0,0)"/>
<rect x="1073.5" y="219.11" width="45.0" height="32.58" fill="rgb(122,0,0)"/>
<rect x="1073.5" y="186.94" width="45.0" height="32.58" fill="rgb(255,224,255)"/>
<rect x="1073.5" y="154.76" width="45.0" height="32.58" fill="rgb(255,180,255)"/>
<rect x="1073.5" y="122.58" width="45.0" height="32.58" fill="rgb(255,104,255)"/>
<rect x="1073.5" y="91.50" width="45.0" height="31.48" fill="rgb(238,51,238)"/>
<rect x="1073.5" y="91.5" width="45.0" height="901.0" fill="none" stroke="#000" stroke-width="1.1"/>
<line x1="1118.5" y1="992.50" x2="1123.8" y2="992.50" stroke="#000" stroke-width="1.1"/>
<text x="1129.0" y="1003.1" font-size="30.60" font-weight="normal" text-anchor="start" textLength="16.6" lengthAdjust="spacingAndGlyphs">0</text>
<line x1="1118.5" y1="863.79" x2="1123.8" y2="863.79" stroke="#000" stroke-width="1.1"/>
<text x="1129.0" y="874.4" font-size="30.60" font-weight="normal" text-anchor="start" textLength="32.8" lengthAdjust="spacingAndGlyphs">10</text>
<line x1="1118.5" y1="735.07" x2="1123.8" y2="735.07" stroke="#000" stroke-width="1.1"/>
<text x="1129.0" y="745.7" font-size="30.60" font-weight="normal" text-anchor="start" textLength="32.8" lengthAdjust="spacingAndGlyphs">20</text>
<line x1="1118.5" y1="606.36" x2="1123.8" y2="606.36" stroke="#000" stroke-width="1.1"/>
<text x="1129.0" y="617.0" font-size="30.60" font-weight="normal" text-anchor="start" textLength="32.8" lengthAdjust="spacingAndGlyphs">30</text>
<line x1="1118.5" y1="477.64" x2="1123.8" y2="477.64" stroke="#000" stroke-width="1.1"/>
<text x="1129.0" y="488.2" font-size="30.60" font-weight="normal" text-anchor="start" textLength="32.8" lengthAdjust="spacingAndGlyphs">40</text>
<line x1="1118.5" y1="348.93" x2="1123.8" y2="348.93" stroke="#000" stroke-width="1.1"/>
<text x="1129.0" y="359.5" font-size="30.60" font-weight="normal" text-anchor="start" textLength="32.8" lengthAdjust="spacingAndGlyphs">50</text>
<line x1="1118.5" y1="220.21" x2="1123.8" y2="220.21" stroke="#000" stroke-width="1.1"/>
<text x="1129.0" y="230.8" font-size="30.60" font-weight="normal" text-anchor="start" textLength="32.8" lengthAdjust="spacingAndGlyphs">60</text>
<line x1="1118.5" y1="91.50" x2="1123.8" y2="91.50" stroke="#000" stroke-width="1.1"/>
<text x="1129.0" y="102.1" font-size="30.60" font-weight="normal" text-anchor="start" textLength="32.8" lengthAdjust="spacingAndGlyphs">70</text>
<text transform="translate(1192.0,544.4) rotate(-90)" font-size="31.2" text-anchor="middle" textLength="54.5" lengthAdjust="spacingAndGlyphs">dBZ</text>
</svg></body></html>
